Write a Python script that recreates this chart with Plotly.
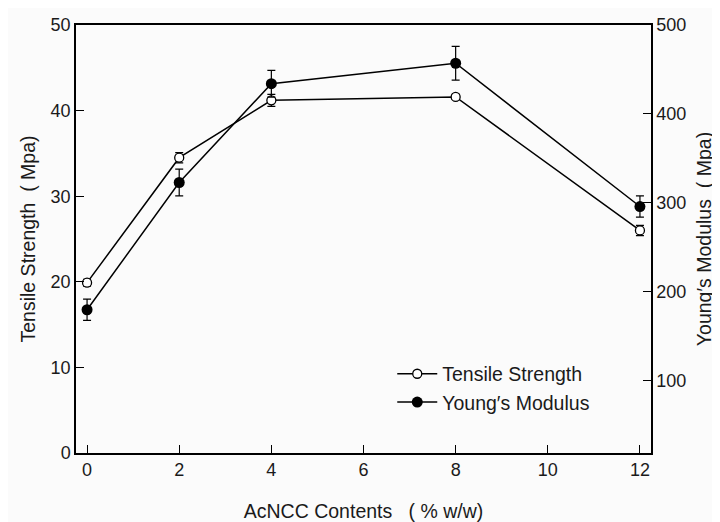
import plotly.graph_objects as go

contents = [0, 2, 4, 8, 12]
tensile = [19.9, 34.5, 41.2, 41.6, 26.0]
tensile_err = [0.4, 0.6, 0.7, 0.3, 0.6]
young = [180, 323, 434, 457, 296]
young_err = [12, 15, 15, 19, 12]

x_ticks = [0, 2, 4, 6, 8, 10, 12]
y1_ticks = [0, 10, 20, 30, 40, 50]
y2_ticks = [100, 200, 300, 400, 500]

FONT = "Liberation Sans, Arial, sans-serif"
TXT = "#1a1a1a"

fig = go.Figure()
fig.add_trace(go.Scatter(
    x=contents, y=tensile, name="Tensile Strength", mode="lines+markers",
    line=dict(color="black", width=1.5),
    marker=dict(symbol="circle", size=9, color="white", line=dict(color="black", width=1.3)),
    error_y=dict(type="data", array=tensile_err, visible=True, color="black", thickness=1.2, width=4),
))
fig.add_trace(go.Scatter(
    x=contents, y=young, name="Young′s Modulus", mode="lines+markers", yaxis="y2",
    line=dict(color="black", width=1.5),
    marker=dict(symbol="circle", size=11, color="black"),
    error_y=dict(type="data", array=young_err, visible=True, color="black", thickness=1.2, width=4),
))

axis_common = dict(
    showline=True, linecolor="black", linewidth=1.5, ticks="inside", ticklen=8,
    tickwidth=1.3, tickcolor="black", showgrid=False, zeroline=False, automargin=False,
    tickfont=dict(family=FONT, size=18, color=TXT),
)
title_font = dict(family=FONT, size=19.5, color=TXT)

fig.update_layout(
    width=712, height=514,
    margin=dict(l=68, r=69, t=17, b=69),
    paper_bgcolor="#fbfbfb", plot_bgcolor="#fbfbfb",
    font=dict(family=FONT, color=TXT),
    xaxis=dict(
        range=[-0.24, 12.24], tickvals=x_ticks, mirror=True,
        title=dict(text="AcNCC Contents   ( % w/w)", font=title_font, standoff=28),
        **axis_common,
    ),
    yaxis=dict(
        range=[0, 50], tickvals=y1_ticks,
        title=dict(text="Tensile Strength  ( Mpa)", font=title_font, standoff=10),
        **axis_common,
    ),
    yaxis2=dict(
        range=[19, 500], tickvals=y2_ticks, overlaying="y", side="right",
        title=dict(text="Young′s Modulus  ( Mpa)", font=title_font, standoff=12),
        **axis_common,
    ),
    legend=dict(
        x=0.55, y=0.23, xanchor="left", yanchor="top",
        bgcolor="rgba(0,0,0,0)", font=dict(family=FONT, size=19.5, color=TXT),
        tracegroupgap=0, itemwidth=40,
    ),
    showlegend=True,
)

fig.write_html("out.html")
